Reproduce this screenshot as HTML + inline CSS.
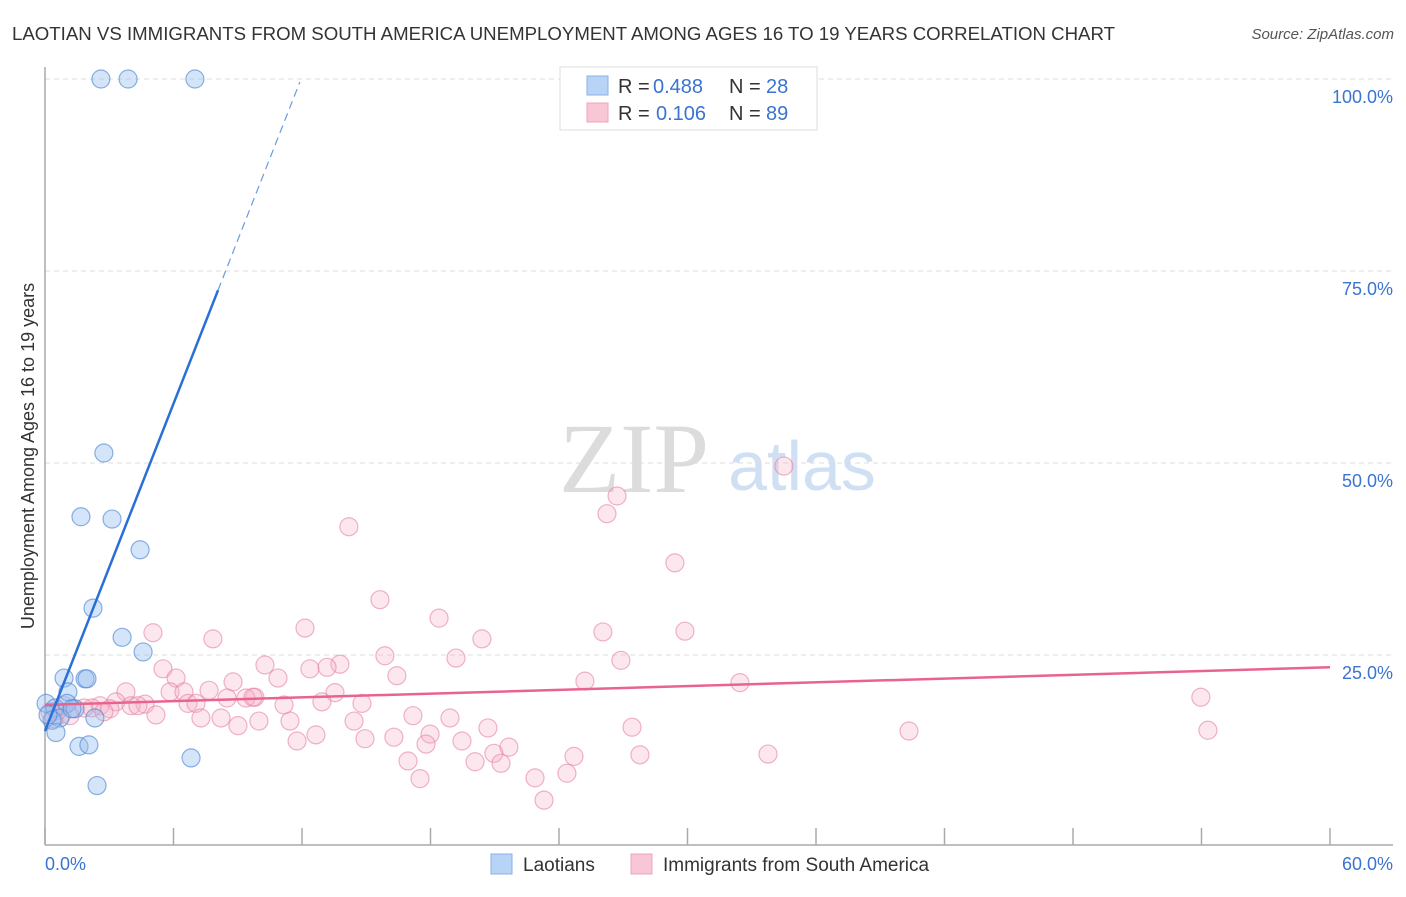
<!DOCTYPE html>
<html><head><meta charset="utf-8">
<style>
body{margin:0;background:#fff;font-family:"Liberation Sans",sans-serif;}
svg text{font-family:"Liberation Sans",sans-serif;}
svg text.serif{font-family:"Liberation Serif",serif;}
</style></head>
<body>
<svg id="chart" width="1406" height="892" xmlns="http://www.w3.org/2000/svg">
<text x="12" y="40" font-size="18" textLength="1103" lengthAdjust="spacingAndGlyphs" fill="#333">LAOTIAN VS IMMIGRANTS FROM SOUTH AMERICA UNEMPLOYMENT AMONG AGES 16 TO 19 YEARS CORRELATION CHART</text>
<text x="1394" y="39" font-size="15" fill="#555" font-style="italic" text-anchor="end">Source: ZipAtlas.com</text>
<g>
<text class="serif" x="634" y="492" font-size="100" fill="#dcdcdc" text-anchor="middle">ZIP</text>
<text x="802" y="490" font-size="70" fill="#cfe0f5" text-anchor="middle">atlas</text>
</g>
<g id="grid"></g>
<g id="axes"></g>
<g id="marks"></g>
<text transform="translate(34,456) rotate(-90)" font-size="18" fill="#333" text-anchor="middle">Unemployment Among Ages 16 to 19 years</text>
<g>
<rect x="560" y="67" width="257" height="63" fill="#fff" stroke="#ddd"/>
<rect x="587" y="76" width="21" height="19" fill="#b8d3f5" stroke="#8ab2e8"/>
<rect x="587" y="103" width="21" height="19" fill="#f9c6d6" stroke="#efa3bc"/>
<text x="618" y="93" font-size="20" fill="#333">R =</text>
<text x="653" y="93" font-size="20" fill="#3a74d0">0.488</text>
<text x="729" y="93" font-size="20" fill="#333">N =</text>
<text x="766" y="93" font-size="20" fill="#3a74d0">28</text>
<text x="618" y="120" font-size="20" fill="#333">R =</text>
<text x="656" y="120" font-size="20" fill="#3a74d0">0.106</text>
<text x="729" y="120" font-size="20" fill="#333">N =</text>
<text x="766" y="120" font-size="20" fill="#3a74d0">89</text>
</g>
<g>
<rect x="491" y="854" width="21" height="20" fill="#b8d3f5" stroke="#8ab2e8"/>
<text x="523" y="871" font-size="19" fill="#333">Laotians</text>
<rect x="631" y="854" width="21" height="20" fill="#f9c6d6" stroke="#efa3bc"/>
<text x="663" y="871" font-size="19" fill="#333">Immigrants from South America</text>
</g>
</svg>
<script>
const blueX=[2.61,3.88,7.00,2.75,1.68,3.13,4.44,2.24,3.60,4.58,0.89,1.87,1.96,1.07,0.05,0.47,1.03,1.40,2.33,0.70,0.33,0.51,1.59,2.05,6.82,2.43,0.14,1.26];
const blueY=[100,100,100,51.3,43.0,42.7,38.7,31.1,27.3,25.4,22.0,21.9,21.9,20.2,18.7,18.1,18.7,18.0,16.8,16.8,16.5,14.9,13.1,13.3,11.6,8.0,17.2,18.0];
const pinkX=[34.50,26.71,26.24,14.19,29.41,15.64,18.40,26.05,29.88,5.04,12.14,7.84,20.40,15.87,19.19,26.89,13.77,10.27,5.51,12.37,13.17,6.12,10.88,25.21,16.43,32.45,8.78,3.78,5.84,6.49,7.66,13.54,8.50,9.80,9.38,53.97,9.71,12.93,14.80,6.68,7.05,11.16,3.31,4.67,4.02,4.34,2.57,2.19,1.82,3.03,2.75,5.18,7.28,8.22,9.99,9.01,11.44,14.43,17.18,18.91,20.68,27.41,40.34,54.30,12.65,14.94,16.29,17.98,19.47,11.77,17.79,21.66,20.96,24.70,27.78,33.76,16.95,20.08,21.29,24.37,22.88,17.51,23.30,0.79,1.17,0.23,0.42,0.89,0.61];
const pinkY=[49.6,45.7,43.4,41.7,37.0,32.2,29.8,28.0,28.1,27.9,28.5,27.1,27.1,24.9,24.6,24.3,23.8,23.7,23.2,23.2,23.4,22.0,22.0,21.6,22.3,21.4,21.5,20.2,20.2,20.2,20.4,20.1,19.4,19.5,19.4,19.5,19.5,18.9,18.7,18.7,18.7,18.5,18.9,18.6,18.4,18.4,18.4,18.1,18.1,18.0,17.6,17.2,16.8,16.8,16.4,15.8,16.4,16.4,17.1,16.8,15.5,15.6,15.1,15.2,14.6,14.1,14.3,14.7,13.8,13.8,13.4,13.0,12.2,11.8,12.0,12.1,11.2,11.1,10.9,9.6,9.0,8.9,6.1,17.3,17.1,17.6,16.7,18.4,17.8];
const blueTrend=[0,15.1,8.08,72.5,11.9,99.6];
const pinkTrend=[0,18.5,60,23.4];
const yTicks=[25,50,75,100];
const yTickLabels=["25.0%","50.0%","75.0%","100.0%"];
const xTicks=[0,6,12,18,24,30,36,42,48,54,60];
const NS="http://www.w3.org/2000/svg";
const X=v=>45+v/60*1285;
const Y=v=>847-v/100*768;
function mk(tag,attrs,parent){const e=document.createElementNS(NS,tag);for(const k in attrs)e.setAttribute(k,attrs[k]);parent.appendChild(e);return e;}
const grid=document.getElementById('grid'),axes=document.getElementById('axes'),marks=document.getElementById('marks');
yTicks.forEach((t,i)=>{
  const l=mk('line',{x1:45,x2:1393,y1:Y(t),y2:Y(t),stroke:'#ddd','stroke-dasharray':'5,4'},grid);
  
  
  const tx=mk('text',{x:1393,y:Y(t)+24,'font-size':18,fill:'#3a74d0','text-anchor':'end'},axes);
  tx.textContent=yTickLabels[i];
  
  
});
let a=mk('line',{x1:45,x2:45,y1:67,y2:845,stroke:'#aaa','stroke-width':1.5},axes);


a=mk('line',{x1:45,x2:1393,y1:845,y2:845,stroke:'#aaa','stroke-width':1.5},axes);


xTicks.forEach(t=>{
  const l=mk('line',{x1:X(t),x2:X(t),y1:828,y2:845,stroke:'#aaa','stroke-width':1.5},axes);
  
  
});
let t0=mk('text',{x:45,y:870,'font-size':18,fill:'#3a74d0'},axes);t0.textContent='0.0%';


t0=mk('text',{x:1393,y:870,'font-size':18,fill:'#3a74d0','text-anchor':'end'},axes);t0.textContent='60.0%';


pinkX.forEach((x,i)=>{
  const c=mk('circle',{cx:X(x),cy:Y(pinkY[i]),r:9,fill:'rgba(245,175,198,0.3)',stroke:'rgba(230,130,162,0.6)','stroke-width':1.2},marks);
  
  
});
blueX.forEach((x,i)=>{
  const c=mk('circle',{cx:X(x),cy:Y(blueY[i]),r:9,fill:'rgba(150,190,240,0.4)',stroke:'rgba(80,135,210,0.65)','stroke-width':1.2},marks);
  
  
});
let tl=mk('line',{x1:X(pinkTrend[0]),y1:Y(pinkTrend[1]),x2:X(pinkTrend[2]),y2:Y(pinkTrend[3]),stroke:'#e8648e','stroke-width':2.5},marks);


tl=mk('line',{x1:X(blueTrend[0]),y1:Y(blueTrend[1]),x2:X(blueTrend[2]),y2:Y(blueTrend[3]),stroke:'#2a6fd6','stroke-width':2.5},marks);


tl=mk('line',{x1:X(blueTrend[2]),y1:Y(blueTrend[3]),x2:X(blueTrend[4]),y2:Y(blueTrend[5]),stroke:'#6a9ae0','stroke-width':1.2,'stroke-dasharray':'8,5'},marks);


</script>
</body></html>
